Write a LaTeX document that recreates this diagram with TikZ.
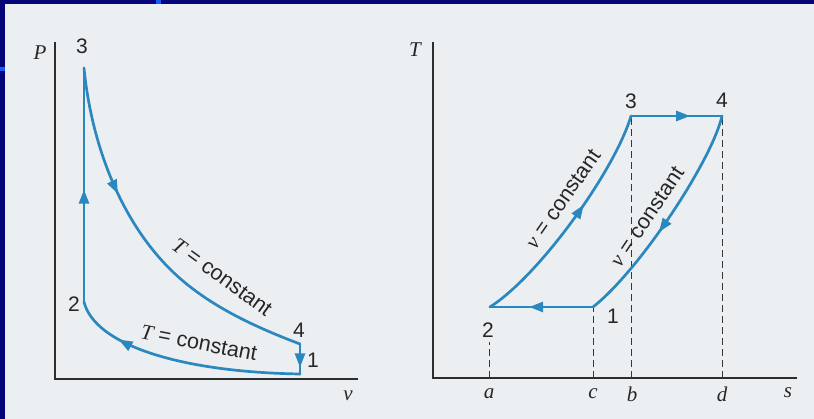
\documentclass[tikz,border=0pt]{standalone}
\usepackage{fontspec}
\setmainfont{Liberation Sans}
\newfontfamily\tms{Liberation Serif}
\usetikzlibrary{decorations.markings,arrows.meta}
\definecolor{paper}{RGB}{236,239,242}
\definecolor{navy}{RGB}{4,4,120}
\definecolor{brightblue}{RGB}{20,90,255}
\definecolor{cyc}{RGB}{42,136,190}
\definecolor{axcol}{RGB}{45,45,45}
\definecolor{dashcol}{RGB}{55,55,55}
\begin{document}
\begin{tikzpicture}[x=1pt,y=-1pt,
  cycline/.style={draw=cyc, line width=2.7pt, line cap=round, line join=round},
  marr/.style={postaction={decorate}, decoration={markings, mark=at position #1 with {\arrow[cyc]{Triangle[length=14pt,width=10pt]}}}},
  axline/.style={draw=axcol, line width=1.3pt},
  dline/.style={draw=dashcol, line width=1pt, dash pattern=on 7pt off 4pt},
  num/.style={font=\fontsize{21}{22}\selectfont, text=black!85, inner sep=0pt},
  var/.style={font=\tms\itshape\fontsize{21}{23}\selectfont, text=black!85, inner sep=0pt},
  lab/.style={font=\fontsize{21.5}{23}\selectfont, text=black!85, inner sep=0pt},
]
\useasboundingbox (0,0) rectangle (814,419);
\fill[paper] (0,0) rectangle (814,419);
\fill[navy] (0,0) rectangle (814,4);
\fill[navy] (0,0) rectangle (5,419);
\fill[brightblue] (156,0) rectangle (161,4);
\fill[brightblue] (0,67) rectangle (5,71);

% ---------- left: P-v diagram ----------
\coordinate (LP) at (55,42);
\coordinate (LO) at (55,379);
\coordinate (LV) at (358,379);
\coordinate (L3) at (84,68);
\coordinate (L2) at (84,302);
\coordinate (L4) at (300,344);
\coordinate (L1) at (300,374);
\coordinate (Lm) at (183,281);
\draw[axline] (LP) -- (LO) -- (LV);

\draw[cycline, marr=0.48] (L2) -- (L3);
\draw[cycline, marr=0.35] (L3) .. controls (92,150) and (125,232) .. (Lm)
                                .. controls (215,308) and (255,327) .. (L4);
\draw[cycline, marr=0.78] (L4) -- (L1);
\draw[cycline, marr=0.78] (L1) .. controls (180,372) and (95,345) .. (L2);

\node[var] (lP) at (40,53) {P};
\node[var] (lv) at (348,396) {v};
\node[num] (n3) at (82,46) {3};
\node[num] (n2) at (74,304) {2};
\node[num] (n4) at (299,330) {4};
\node[num] (n1) at (313,360) {1};
\node[lab, rotate=-36] (tc1) at (222,277) {{\tms\itshape T} = constant};
\node[lab, rotate=-11] (tc2) at (199,343) {{\tms\itshape T} = constant};

% ---------- right: T-s diagram ----------
\coordinate (RT) at (433,42);
\coordinate (RO) at (433,378);
\coordinate (RS) at (797,378);
\coordinate (R2) at (490,307);
\coordinate (R1) at (593,307);
\coordinate (R3) at (631,116);
\coordinate (R4) at (722,116);
\coordinate (Ra) at (489,378);
\coordinate (Ra2) at (489,342);
\coordinate (Rc) at (593,378);
\coordinate (Rb) at (631,378);
\coordinate (Rd) at (722,378);
\draw[axline] (RT) -- (RO) -- (RS);
\draw[dline] (Ra) -- (Ra2);
\draw[dline] (Rc) -- (R1);
\draw[dline] (Rb) -- (R3);
\draw[dline] (Rd) -- (R4);

\draw[cycline, marr=0.58] (R2) .. controls (540,275) and (615,170) .. (R3);
\draw[cycline, marr=0.65] (R3) -- (R4);
\draw[cycline, marr=0.57] (R4) .. controls (712,160) and (640,270) .. (R1);
\draw[cycline, marr=0.62] (R1) -- (R2);

\node[var] (rT) at (415,50) {T};
\node[var] (rs) at (788,393) {s};
\node[var] (ra) at (489,394) {a};
\node[var] (rc) at (593,394) {c};
\node[var] (rb) at (632,394) {b};
\node[var] (rd) at (722,394) {d};
\node[num] (m3) at (631,101) {3};
\node[num] (m4) at (722,100) {4};
\node[num] (m2) at (488,330) {2};
\node[num] (m1) at (613,316) {1};
\node[lab, rotate=55] (vc1) at (563,199) {{\tms\itshape v} = constant};
\node[lab, rotate=56] (vc2) at (647,217) {{\tms\itshape v} = constant};
\end{tikzpicture}
\end{document}
